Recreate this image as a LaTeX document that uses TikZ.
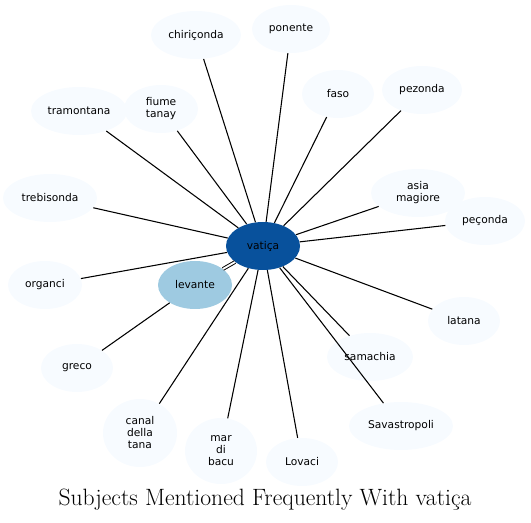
\documentclass[tikz,border=0pt]{standalone}
\usepackage{fontspec}
\newfontfamily\labelfont{DejaVu Sans}
\usepackage{tikz}
\usetikzlibrary{shapes.geometric}
\usepackage{xcolor}
\definecolor{palebl}{HTML}{F7FBFF}
\definecolor{midbl}{HTML}{9ECAE1}
\definecolor{deepbl}{HTML}{08519C}
\tikzset{
  subj/.style={ellipse,draw=none,fill=palebl,inner sep=0pt,minimum width=55.5pt,minimum height=36pt,
    font=\labelfont\fontsize{8}{9}\selectfont,align=center},
  link/.style={line width=0.8pt,black}
}

\begin{document}
\begin{tikzpicture}[x=0.75pt,y=0.75pt,yscale=-1,xscale=1]
                    \useasboundingbox (0,0) rectangle (531,523);
                    % Centre Node
                    \node [subj,fill=deepbl,minimum width=55.5pt] (vatica) at (263,246) {vatiça};
                    \node [subj,fill=midbl] (levante) at (195,285) {levante};
                    % Text Node
                    \node [subj,minimum width=67.5pt] (chiriconda) at (196,35) {chiriçonda};
                    \node [subj,minimum width=58.5pt] (ponente) at (291,29) {ponente};
                    \node [subj,minimum width=54pt] (faso) at (338,94) {faso};
                    \node [subj,minimum width=60pt] (pezonda) at (422,90) {pezonda};
                    \node [subj,minimum width=70.5pt] (asia) at (418,193) {asia\\magiore};
                    \node [subj,minimum width=60pt] (peconda) at (485,221) {peçonda};
                    \node [subj,minimum width=54pt] (latana) at (464,321) {latana};
                    \node [subj,minimum width=64.5pt] (samachia) at (370,357) {samachia};
                    \node [subj,minimum width=78pt] (savastropoli) at (401,426) {Savastropoli};
                    \node [subj,minimum width=54pt] (lovaci) at (302,462) {Lovaci};
                    \node [subj,minimum width=54pt,minimum height=49.5pt] (marbacu) at (221,451) {mar\\di\\bacu};
                    \node [subj,minimum width=55.5pt,minimum height=51pt] (canal) at (140,433) {canal\\della\\tana};
                    \node [subj,minimum width=54pt] (greco) at (77,368) {greco};
                    \node [subj,minimum width=55.5pt] (organci) at (45,285) {organci};
                    \node [subj,minimum width=70.5pt] (trebisonda) at (50,198) {trebisonda};
                    \node [subj,minimum width=72pt] (tramontana) at (79,111) {tramontana};
                    \node [subj,minimum width=55.5pt] (fiume) at (161,109) {fiume\\tanay};

                    % Straight Lines
                    \draw [link,double=white,double distance=1.4pt,line width=0.7pt] (vatica) -- (levante);
                    \draw [link] (levante) -- (greco);
                    \draw [link] (vatica) -- (chiriconda);
                    \draw [link] (vatica) -- (ponente);
                    \draw [link] (vatica) -- (faso);
                    \draw [link] (vatica) -- (pezonda);
                    \draw [link] (vatica) -- (asia);
                    \draw [link] (vatica) -- (peconda);
                    \draw [link] (vatica) -- (latana);
                    \draw [link] (vatica) -- (samachia);
                    \draw [link] (vatica) -- (savastropoli);
                    \draw [link] (vatica) -- (lovaci);
                    \draw [link] (vatica) -- (marbacu);
                    \draw [link] (vatica) -- (canal);
                    \draw [link] (vatica) -- (organci);
                    \draw [link] (vatica) -- (trebisonda);
                    \draw [link] (vatica) -- (tramontana);
                    \draw [link] (vatica) -- (fiume);

                    % Title
                    \node [font=\fontsize{17.7}{21}\selectfont] (title) at (265,500) {Subjects Mentioned Frequently With vatiça};
\end{tikzpicture}
\end{document}
